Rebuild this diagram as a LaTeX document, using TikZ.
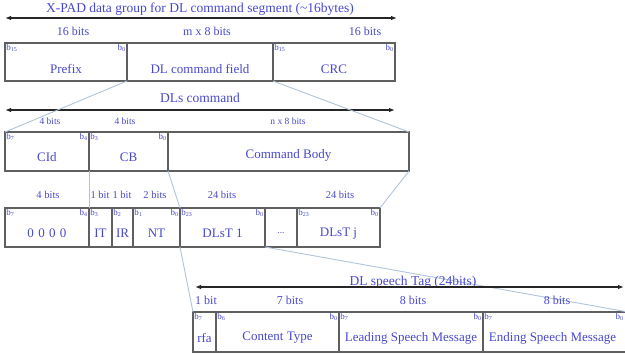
\documentclass[tikz,border=0pt]{standalone}
\usepackage{fontspec}
\setmainfont{Liberation Serif}
\usetikzlibrary{arrows.meta}
\definecolor{txtblue}{RGB}{72,72,205}
\definecolor{conn}{RGB}{178,196,216}
\definecolor{boxline}{RGB}{95,95,95}
\tikzset{
  field/.style 2 args={draw=boxline, line width=1.1pt, minimum width=#1pt, minimum height=#2pt,
    anchor=north west, inner sep=0pt, outer sep=0pt},
  ftext/.style={text=txtblue, font=\fontsize{13}{15}\selectfont, inner sep=0pt},
  htext/.style={text=txtblue, font=\fontsize{13.5}{15}\selectfont, inner sep=0pt},
  btext/.style={text=txtblue, font=\fontsize{12}{14}\selectfont, inner sep=0pt},
  mtext/.style={text=txtblue, font=\fontsize{10.5}{12}\selectfont, inner sep=0pt},
  stext/.style={text=txtblue, font=\fontsize{9.5}{11}\selectfont, inner sep=0pt},
  bitnw/.style={text=txtblue, font=\fontsize{9}{10}\selectfont, inner sep=1.2pt, anchor=north west},
  bitne/.style={text=txtblue, font=\fontsize{9}{10}\selectfont, inner sep=1.2pt, anchor=north east},
  span/.style={draw=black!85, line width=1.1pt, {Latex[length=6pt,width=4.5pt]}-{Latex[length=6pt,width=4.5pt]}},
  link/.style={draw=conn, line width=0.9pt}
}
\begin{document}
\begin{tikzpicture}[x=1pt,y=-1pt]
\useasboundingbox (0,0) rectangle (625,354);
\clip (0,0) rectangle (625,354);

% ---------- Row 1 ----------
\node[htext] (t1) at (200,9) {X-PAD data group for DL command segment (\textasciitilde16bytes)};
\coordinate (a1l) at (5,18);
\coordinate (a1r) at (397,18);
\draw[span] (a1l) -- (a1r);
\node[btext] (l11) at (73,31) {16 bits};
\node[btext] (l12) at (207,31) {m x 8 bits};
\node[btext] (l13) at (365,31) {16 bits};

\node[field={122}{38}] (prefix) at (5,43) {};
\node[field={146}{38}] (dlcmd) at (127,43) {};
\node[field={122}{38}] (crc) at (273,43) {};
\node[ftext] (prefixt) at ([yshift=-7pt]prefix.center) {Prefix};
\node[ftext] (dlcmdt) at ([yshift=-7pt]dlcmd.center) {DL command field};
\node[ftext] (crct) at ([yshift=-7pt]crc.center) {CRC};
\node[bitnw] (b1a) at (prefix.north west) {b\textsubscript{15}};
\node[bitne] (b1b) at (prefix.north east) {b\textsubscript{0}};
\node[bitnw] (b1c) at (crc.north west) {b\textsubscript{15}};
\node[bitne] (b1d) at (crc.north east) {b\textsubscript{0}};

% ---------- Row 2 ----------
\node[htext] (t2) at (200,98) {DLs command};
\coordinate (a2l) at (5,110);
\coordinate (a2r) at (395,110);
\draw[span] (a2l) -- (a2r);
\node[stext] (l21) at (50,121) {4 bits};
\node[stext] (l22) at (125,121) {4 bits};
\node[stext] (l23) at (288,121) {n x 8 bits};

\node[field={84}{39}] (cid) at (5,132) {};
\node[field={79}{39}] (cb) at (89,132) {};
\node[field={241}{39}] (body) at (168,132) {};
\node[ftext] (cidt) at ([yshift=-6pt]cid.center) {CId};
\node[ftext] (cbt) at ([yshift=-6pt]cb.center) {CB};
\node[ftext] (bodyt) at ([yshift=-4pt]body.center) {Command Body};
\node[bitnw] (b2a) at (cid.north west) {b\textsubscript{7}};
\node[bitne] (b2b) at (cid.north east) {b\textsubscript{4}};
\node[bitnw] (b2c) at (cb.north west) {b\textsubscript{3}};
\node[bitne] (b2d) at (cb.north east) {b\textsubscript{0}};

% ---------- Row 3 ----------
\node[mtext] (l31) at (48,195) {4 bits};
\node[mtext] (l32) at (100,195) {1 bit};
\node[mtext] (l33) at (122,195) {1 bit};
\node[mtext] (l34) at (155,195) {2 bits};
\node[mtext] (l35) at (222,195) {24 bits};
\node[mtext] (l36) at (340,195) {24 bits};

\node[field={84}{39}] (zero) at (5,208) {};
\node[field={23}{39}] (it) at (89,208) {};
\node[field={21}{39}] (ir) at (112,208) {};
\node[field={47}{39}] (nt) at (133,208) {};
\node[field={85}{39}] (dlst1) at (180,208) {};
\node[field={32}{39}] (dots) at (265,208) {};
\node[field={83}{39}] (dlstj) at (297,208) {};
\node[ftext] (zerot) at ([yshift=-6pt]zero.center) {0\,\,0\,\,0\,\,0};
\node[ftext] (itt) at ([yshift=-6pt]it.center) {IT};
\node[ftext] (irt) at ([yshift=-6pt]ir.center) {IR};
\node[ftext] (ntt) at ([yshift=-6pt]nt.center) {NT};
\node[ftext] (dlst1t) at ([yshift=-6pt]dlst1.center) {DLsT 1};
\node[stext] (dotst) at ([yshift=-6pt]dots.center) {...};
\node[ftext] (dlstjt) at ([yshift=-6pt]dlstj.center) {DLsT j};
\node[bitnw] (b3a) at (zero.north west) {b\textsubscript{7}};
\node[bitne] (b3b) at (zero.north east) {b\textsubscript{4}};
\node[bitnw] (b3c) at (it.north west) {b\textsubscript{3}};
\node[bitnw] (b3d) at (ir.north west) {b\textsubscript{2}};
\node[bitnw] (b3e) at (nt.north west) {b\textsubscript{1}};
\node[bitne] (b3f) at (nt.north east) {b\textsubscript{0}};
\node[bitnw] (b3g) at (dlst1.north west) {b\textsubscript{23}};
\node[bitne] (b3h) at (dlst1.north east) {b\textsubscript{0}};
\node[bitnw] (b3i) at (dlstj.north west) {b\textsubscript{23}};
\node[bitne] (b3j) at (dlstj.north east) {b\textsubscript{0}};

% ---------- Row 4 ----------
\node[field={23}{40}] (rfa) at (193,312) {};
\node[field={123}{40}] (ctype) at (216,312) {};
\node[field={144}{40}] (lead) at (339,312) {};
\node[field={145}{40}] (endm) at (483,312) {};

% connectors
\draw[link] (dlcmd.south west) -- (cid.north west);
\draw[link] (dlcmd.south east) -- (body.north east);
\draw[link] (cb.south west) -- (it.north west);
\draw[link] (body.south west) -- (dlst1.north west);
\draw[link] (body.south east) -- (dlstj.north east);
\draw[link] (dlst1.south west) -- (rfa.north west);
\draw[link] (dlst1.south east) -- (endm.north east);

\node[htext, anchor=base] (t4) at (413,285) {DL speech Tag (24bits)};
\coordinate (a4l) at (195,287);
\coordinate (a4r) at (624,287);
\draw[span] (a4l) -- (a4r);
\node[btext] (l41) at (206,300) {1 bit};
\node[btext] (l42) at (290,300) {7 bits};
\node[btext] (l43) at (413,300) {8 bits};
\node[btext] (l44) at (557,300) {8 bits};

\node[ftext] (rfat) at ([yshift=-6pt]rfa.center) {rfa};
\node[ftext] (ctypet) at ([yshift=-6pt]ctype.center) {Content Type};
\node[ftext] (leadt) at ([yshift=-6pt]lead.center) {Leading Speech Message};
\node[ftext] (endmt) at ([xshift=-3pt,yshift=-6pt]endm.center) {Ending Speech Message};
\node[bitnw] (b4a) at (rfa.north west) {b\textsubscript{7}};
\node[bitnw] (b4b) at (ctype.north west) {b\textsubscript{6}};
\node[bitne] (b4c) at (ctype.north east) {b\textsubscript{0}};
\node[bitnw] (b4d) at (lead.north west) {b\textsubscript{7}};
\node[bitne] (b4e) at (lead.north east) {b\textsubscript{0}};
\node[bitnw] (b4f) at (endm.north west) {b\textsubscript{7}};
\node[bitne] (b4g) at ([xshift=-3pt]endm.north east) {b\textsubscript{0}};
\end{tikzpicture}
\end{document}
